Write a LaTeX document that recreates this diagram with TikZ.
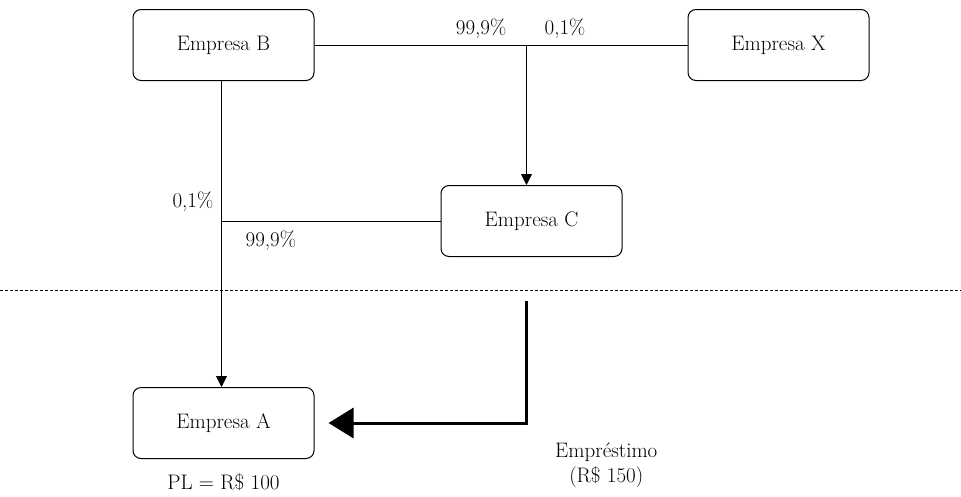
\documentclass[tikz,border=0pt]{standalone}
\usepackage{tikz}
\usetikzlibrary{positioning}
\usetikzlibrary{arrows.meta}
\tikzstyle{firm} = [rectangle, rounded corners=8pt, minimum width=181pt, minimum height=71pt, text centered, draw=black, line width=1pt, fill=white, text=black, font=\fontsize{21}{25}\selectfont]
\tikzstyle{pct} = [inner sep=0pt, text=black, font=\fontsize{21}{25}\selectfont]
\tikzstyle{link} = [line width=0.9pt, black]
\tikzstyle{own} = [line width=0.9pt, black, -{Triangle[length=11pt,width=11pt]}]
\tikzstyle{loan} = [line width=3pt, black, -{Triangle[length=25pt,width=30pt]}, shorten >=14pt]
\tikzstyle{border} = [line width=0.9pt, black, dash pattern=on 3pt off 2pt]

\begin{document}
\begin{tikzpicture}[x=1pt,y=-1pt]
	\useasboundingbox (0,0) rectangle (961,496);
	\node (b)[firm] at (223.5,45){Empresa B};
	\node (x)[firm, right=373pt of b]{Empresa X};
	\node (c)[firm, below right=104pt and 126pt of b]{Empresa C};
	\node (a)[firm, below=306pt of b]{Empresa A};
	\coordinate (j) at ([xshift=-5pt]c.north |- b.east);
	\coordinate (k) at ([xshift=-2pt]b.south |- c.west);
	\coordinate (l) at (0,290);
	\coordinate (r) at (961,290);
	\coordinate (start) at (526,301);
	\coordinate (bend) at (start |- a.east);
	\node (p1)[pct, above left=6pt and 20pt of j]{99,9\%};
	\node (p2)[pct, above right=6pt and 18pt of j]{0,1\%};
	\node (p3)[pct, above left=9pt and 8pt of k]{0,1\%};
	\node (p4)[pct, below right=10pt and 24pt of k]{99,9\%};
	\node (pl)[pct, below=15pt of a]{PL = R\$ 100};
	\node (emp)[pct, align=center, below right=20pt and 29pt of bend]{Empréstimo\\(R\$ 150)};
	\draw [border] (l) -- (r);
	\draw [link] (b) -- (x);
	\draw [own] (j) -- (j |- c.north);
	\draw [link] (c) -- (k);
	\draw [own] (b.south -| k) -- (a.north -| k);
	\draw [loan] (start) -- (bend) -- (a.east);
	\end{tikzpicture}
\end{document}
